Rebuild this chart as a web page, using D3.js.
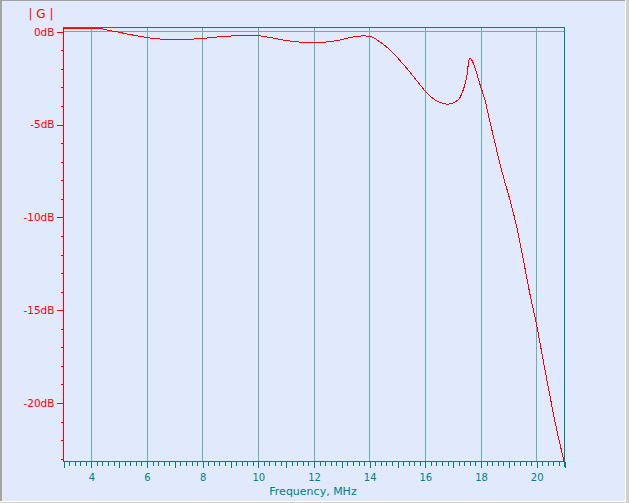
<!DOCTYPE html>
<html>
<head>
<meta charset="utf-8">
<script src="https://cdn.jsdelivr.net/npm/d3@7"></script>
<style>
  html, body { margin: 0; padding: 0; background: #e1eafc; overflow: hidden; }
  svg { display: block; }
  text { font-family: "DejaVu Sans", Verdana, sans-serif; }
</style>
</head>
<body>
<svg id="chart" width="629" height="503"></svg>
<script>
// ---- data ----
const freqMHz = [3.0, 4.0, 4.35, 4.6, 5.0, 5.35, 5.75, 6.1, 6.5, 7.1, 7.8, 8.2, 8.6, 9.1, 9.5, 9.85,
  10.15, 10.45, 10.9, 11.4, 11.9, 12.45, 12.7, 13.05, 13.3, 13.55, 13.8, 14.0, 14.2, 14.39,
  14.75, 15.11, 15.47, 15.83, 16.01, 16.19, 16.37, 16.55, 16.8, 17.09, 17.27, 17.38, 17.48,
  17.54, 17.57, 17.63, 17.72, 17.81, 17.9, 17.98, 18.16, 18.31, 18.58, 18.82, 19.06, 19.3,
  19.54, 19.82, 19.98, 20.25, 20.5, 20.74, 21.0];
const gainDB = [0.17, 0.17, 0.15, 0.06, -0.05, -0.16, -0.27, -0.36, -0.42, -0.44, -0.41, -0.36, -0.30, -0.25, -0.22, -0.22,
  -0.26, -0.34, -0.47, -0.57, -0.60, -0.58, -0.53, -0.44, -0.34, -0.28, -0.25, -0.27, -0.38, -0.58,
  -1.0, -1.58, -2.21, -2.89, -3.22, -3.49, -3.70, -3.83, -3.93, -3.81, -3.56, -3.16, -2.62,
  -2.08, -1.64, -1.46, -1.64, -1.99, -2.45, -2.86, -3.70, -4.69, -6.40, -7.83, -9.09, -10.53,
  -12.32, -14.48, -15.55, -17.71, -19.69, -21.48, -23.15];

const yMajorTicks = [0, -5, -10, -15, -20];
const yMinorTicks = d3.range(-1, -24, -1).filter(v => v % 5 !== 0);
const xLabelTicks = [4, 6, 8, 10, 12, 14, 16, 18, 20];
const xMidTicks = [3, 5, 7, 9, 11, 13, 15, 17, 19, 21];
const xMinorTicks = d3.range(3, 21.0001, 0.2).map(v => +v.toFixed(1)).filter(v => Math.abs(v - Math.round(v)) > 1e-6);
const gridLines = [4, 6, 8, 10, 12, 14, 16, 18, 20];
const titleText = "| G |";
const xTitle = "Frequency, MHz";

// ---- layout ----
const W = 629, H = 503;
const L = 63, R = 564, T = 27, B = 461;
const x = d3.scaleLinear().domain([3, 21]).range([L, R]);
const y = d3.scaleLinear().domain([0.23, -23.15]).range([T, B]);
const px = v => Math.round(v) + 0.5;

const RED = "#ff0000", TEAL = "#008080", GRID = "#62b2b2", DARK = "#187878";

const svg = d3.select("#chart");

// window frame
svg.append("rect").attr("x", 0).attr("y", 0).attr("width", W).attr("height", H).attr("fill", "#e1eafc");
svg.append("rect").attr("x", 0).attr("y", 0).attr("width", 2).attr("height", H).attr("fill", "#a8a49c");
svg.append("rect").attr("x", 0).attr("y", 0).attr("width", W).attr("height", 1).attr("fill", "#a0a0a0");
svg.append("rect").attr("x", 625).attr("y", 0).attr("width", 1).attr("height", H).attr("fill", "#ffffff");
svg.append("rect").attr("x", 626).attr("y", 0).attr("width", 3).attr("height", H).attr("fill", "#d4d0c8");
svg.append("rect").attr("x", 0).attr("y", 501).attr("width", 626).attr("height", 1).attr("fill", "#ffffff");
svg.append("rect").attr("x", 0).attr("y", 502).attr("width", W).attr("height", 1).attr("fill", "#d4d0c8");

// grid
const grid = svg.append("g").attr("shape-rendering", "crispEdges");
grid.selectAll("line.v").data(gridLines).join("line")
  .attr("x1", d => px(x(d))).attr("x2", d => px(x(d)))
  .attr("y1", T).attr("y2", B)
  .attr("stroke", GRID).attr("stroke-width", 1);
grid.append("line")
  .attr("x1", L).attr("x2", R).attr("y1", px(y(0))).attr("y2", px(y(0)))
  .attr("stroke", GRID);
// top border
grid.append("line").attr("x1", L).attr("x2", R + 1).attr("y1", px(T)).attr("y2", px(T)).attr("stroke", DARK);

// x axis ticks
const xMinorAxis = d3.axisBottom(x).tickValues(xMinorTicks).tickSize(4).tickSizeOuter(0).tickFormat("");
svg.append("g").attr("transform", `translate(0.5,${px(B)})`).call(xMinorAxis)
  .call(g => g.select(".domain").remove())
  .call(g => g.selectAll("line").attr("stroke", TEAL).attr("shape-rendering", "crispEdges"));
const xMidAxis = d3.axisBottom(x).tickValues(xMidTicks).tickSize(6).tickSizeOuter(0).tickFormat("");
svg.append("g").attr("transform", `translate(0.5,${px(B)})`).call(xMidAxis)
  .call(g => g.select(".domain").remove())
  .call(g => g.selectAll("line").attr("stroke", TEAL).attr("shape-rendering", "crispEdges"));
const xAxis = d3.axisBottom(x).tickValues(xLabelTicks).tickSize(6).tickSizeOuter(0).tickFormat(d3.format("d"));
svg.append("g").attr("transform", `translate(0.5,${px(B)})`).call(xAxis)
  .call(g => g.select(".domain").remove())
  .call(g => g.selectAll("line").attr("stroke", TEAL).attr("shape-rendering", "crispEdges"))
  .call(g => g.selectAll("text").attr("fill", TEAL).attr("y", 19.5).attr("dy", 0)
    .style("font-size", "10px").style("font-family", "'DejaVu Sans', Verdana, sans-serif"));
// x axis line
svg.append("line").attr("x1", L).attr("x2", R + 1).attr("y1", px(B)).attr("y2", px(B))
  .attr("stroke", TEAL).attr("shape-rendering", "crispEdges");
// right border
svg.append("line").attr("x1", px(R)).attr("x2", px(R)).attr("y1", T).attr("y2", B + 6)
  .attr("stroke", TEAL).attr("shape-rendering", "crispEdges");

// y axis
const yMinorAxis = d3.axisLeft(y).tickValues(yMinorTicks).tickSize(3).tickSizeOuter(0).tickFormat("");
svg.append("g").attr("transform", `translate(${px(L)},0.5)`).call(yMinorAxis)
  .call(g => g.select(".domain").remove())
  .call(g => g.selectAll("line").attr("stroke", RED).attr("shape-rendering", "crispEdges"));
const yAxis = d3.axisLeft(y).tickValues(yMajorTicks).tickSize(7).tickPadding(2).tickSizeOuter(0).tickFormat(d => d + "dB");
svg.append("g").attr("transform", `translate(${px(L)},0.5)`).call(yAxis)
  .call(g => g.select(".domain").remove())
  .call(g => g.selectAll("line").attr("stroke", RED).attr("shape-rendering", "crispEdges"))
  .call(g => g.selectAll("text").attr("fill", RED)
    .style("font-size", "10.5px").style("font-family", "'DejaVu Sans', Verdana, sans-serif"));
svg.append("line").attr("x1", px(L)).attr("x2", px(L)).attr("y1", T).attr("y2", B)
  .attr("stroke", RED).attr("shape-rendering", "crispEdges");

// curve
const line = d3.line().x((d, i) => x(freqMHz[i])).y(d => y(d)).curve(d3.curveMonotoneX);
svg.append("path").datum(gainDB).attr("d", line)
  .attr("fill", "none").attr("stroke", RED).attr("stroke-width", 1)
  .attr("shape-rendering", "crispEdges");

// titles
svg.append("text").attr("x", 41).attr("y", 18).attr("text-anchor", "middle")
  .attr("fill", RED).style("font-size", "12px").text(titleText);
svg.append("text").attr("x", 313).attr("y", 495).attr("text-anchor", "middle")
  .attr("fill", TEAL).style("font-size", "11px").text(xTitle);
</script>
</body>
</html>
